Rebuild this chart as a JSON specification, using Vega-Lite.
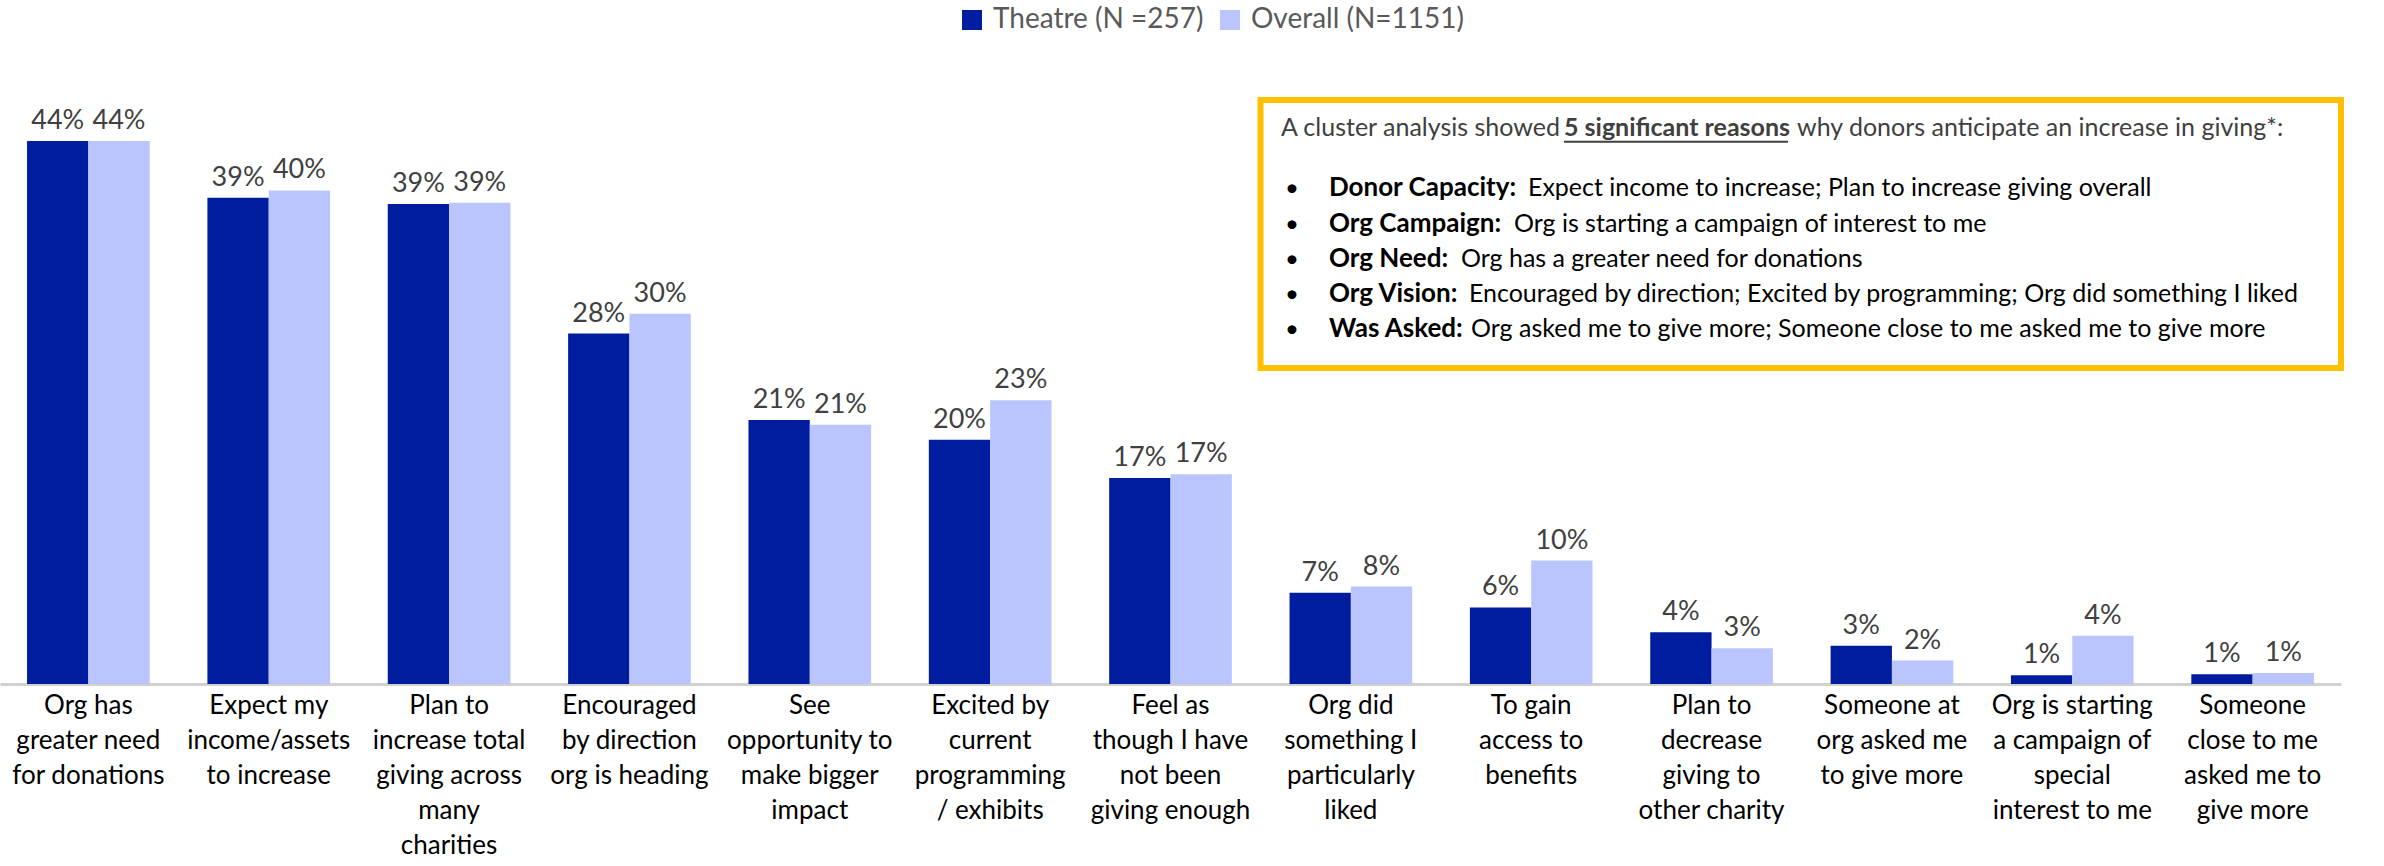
{
  "$schema": "https://vega.github.io/schema/vega-lite/v6.json",
  "width": 2341,
  "height": 617,
  "autosize": {"type": "none"},
  "padding": {"left": 0, "top": 67, "right": 43, "bottom": 182},
  "background": "white",
  "config": {"view": {"stroke": null}, "font": "Lato"},
  "datasets": {
    "bars": [
      {"category": "Org has|greater need|for donations", "series": "Theatre (N =257)", "value": 0.440},
      {"category": "Org has|greater need|for donations", "series": "Overall (N=1151)", "value": 0.440},
      {"category": "Expect my|income/assets|to increase", "series": "Theatre (N =257)", "value": 0.394},
      {"category": "Expect my|income/assets|to increase", "series": "Overall (N=1151)", "value": 0.400},
      {"category": "Plan to|increase total|giving across|many|charities", "series": "Theatre (N =257)", "value": 0.389},
      {"category": "Plan to|increase total|giving across|many|charities", "series": "Overall (N=1151)", "value": 0.390},
      {"category": "Encouraged|by direction|org is heading", "series": "Theatre (N =257)", "value": 0.284},
      {"category": "Encouraged|by direction|org is heading", "series": "Overall (N=1151)", "value": 0.300},
      {"category": "See|opportunity to|make bigger|impact", "series": "Theatre (N =257)", "value": 0.214},
      {"category": "See|opportunity to|make bigger|impact", "series": "Overall (N=1151)", "value": 0.210},
      {"category": "Excited by|current|programming|/ exhibits", "series": "Theatre (N =257)", "value": 0.198},
      {"category": "Excited by|current|programming|/ exhibits", "series": "Overall (N=1151)", "value": 0.230},
      {"category": "Feel as|though I have|not been|giving enough", "series": "Theatre (N =257)", "value": 0.167},
      {"category": "Feel as|though I have|not been|giving enough", "series": "Overall (N=1151)", "value": 0.170},
      {"category": "Org did|something I|particularly|liked", "series": "Theatre (N =257)", "value": 0.074},
      {"category": "Org did|something I|particularly|liked", "series": "Overall (N=1151)", "value": 0.079},
      {"category": "To gain|access to|benefits", "series": "Theatre (N =257)", "value": 0.062},
      {"category": "To gain|access to|benefits", "series": "Overall (N=1151)", "value": 0.100},
      {"category": "Plan to|decrease|giving to|other charity", "series": "Theatre (N =257)", "value": 0.042},
      {"category": "Plan to|decrease|giving to|other charity", "series": "Overall (N=1151)", "value": 0.029},
      {"category": "Someone at|org asked me|to give more", "series": "Theatre (N =257)", "value": 0.031},
      {"category": "Someone at|org asked me|to give more", "series": "Overall (N=1151)", "value": 0.019},
      {"category": "Org is starting|a campaign of|special|interest to me", "series": "Theatre (N =257)", "value": 0.007},
      {"category": "Org is starting|a campaign of|special|interest to me", "series": "Overall (N=1151)", "value": 0.039},
      {"category": "Someone|close to me|asked me to|give more", "series": "Theatre (N =257)", "value": 0.008},
      {"category": "Someone|close to me|asked me to|give more", "series": "Overall (N=1151)", "value": 0.009}
    ],
    "notes": [
      {"x": 7.113, "y": 0.444, "text": "A cluster analysis showed", "kind": "head"},
      {"x": 8.685, "y": 0.444, "text": "5 significant reasons", "kind": "headbold"},
      {"x": 9.979, "y": 0.444, "text": "why donors anticipate an increase in giving*:", "kind": "head"},
      {"x": 7.136, "y": 0.3955, "text": "•", "kind": "bullet"},
      {"x": 7.136, "y": 0.3663, "text": "•", "kind": "bullet"},
      {"x": 7.136, "y": 0.3379, "text": "•", "kind": "bullet"},
      {"x": 7.136, "y": 0.3096, "text": "•", "kind": "bullet"},
      {"x": 7.136, "y": 0.2812, "text": "•", "kind": "bullet"},
      {"x": 7.380, "y": 0.3955, "text": "Donor Capacity:", "kind": "bold"},
      {"x": 7.380, "y": 0.3663, "text": "Org Campaign:", "kind": "bold"},
      {"x": 7.380, "y": 0.3379, "text": "Org Need:", "kind": "bold"},
      {"x": 7.380, "y": 0.3096, "text": "Org Vision:", "kind": "bold"},
      {"x": 7.380, "y": 0.2812, "text": "Was Asked:", "kind": "bold"},
      {"x": 8.485, "y": 0.3955, "text": "Expect income to increase; Plan to increase giving overall", "kind": "normal"},
      {"x": 8.407, "y": 0.3663, "text": "Org is starting a campaign of interest to me", "kind": "normal"},
      {"x": 8.113, "y": 0.3379, "text": "Org has a greater need for donations", "kind": "normal"},
      {"x": 8.157, "y": 0.3096, "text": "Encouraged by direction; Excited by programming; Org did something I liked", "kind": "normal"},
      {"x": 8.169, "y": 0.2812, "text": "Org asked me to give more; Someone close to me asked me to give more", "kind": "normal"}
    ],
    "box": [{"x1": 7.0, "x2": 13.0, "y1": 0.4733, "y2": 0.2561}],
    "underline": [{"x1": 8.685, "x2": 9.929, "y": 0.4395}]
  },
  "resolve": {"scale": {"x": "independent"}},
  "layer": [
    {
      "data": {"name": "bars"},
      "encoding": {
        "x": {
          "field": "category", "type": "nominal", "sort": null,
          "scale": {"paddingInner": 0.32, "paddingOuter": 0.15},
          "axis": {
            "title": null, "labelAngle": 0,
            "labelExpr": "split(datum.label, '|')",
            "labelFont": "Lato",
            "labelFontSize": 26, "labelColor": "#000000",
            "labelLineHeight": 35, "labelBaseline": "top", "labelPadding": 8,
            "labelLimit": 400, "labelAlign": "center",
            "ticks": false, "domainColor": "#D0D0D0", "domainWidth": 3, "grid": false
          }
        },
        "xOffset": {"field": "series", "type": "nominal", "sort": ["Theatre (N =257)", "Overall (N=1151)"]},
        "y": {"field": "value", "type": "quantitative", "scale": {"domain": [0, 0.5]}, "axis": null}
      },
      "layer": [
        {
          "mark": {"type": "bar"},
          "encoding": {
            "color": {
              "field": "series", "type": "nominal",
              "scale": {"domain": ["Theatre (N =257)", "Overall (N=1151)"], "range": ["#001C9F", "#BBC5FD"]},
              "legend": {
                "orient": "none", "legendX": 958, "legendY": -61, "direction": "horizontal",
                "title": null, "symbolType": "square", "symbolSize": 400, "symbolStrokeWidth": 0,
                "labelFont": "Lato", "labelFontSize": 28, "labelColor": "#595959", "labelLimit": 400,
                "labelOffset": 7, "columnPadding": 12
              }
            }
          }
        },
        {
          "mark": {"type": "text", "dy": -20, "fontSize": 27, "color": "#404040", "font": "Lato"},
          "encoding": {"text": {"field": "value", "type": "quantitative", "format": ".0%"}}
        }
      ]
    },
    {
      "layer": [
        {
          "data": {"name": "box"},
          "mark": {"type": "rect", "fill": "white", "stroke": "#FFC000", "strokeWidth": 6},
          "encoding": {
            "x": {"field": "x1", "type": "quantitative", "scale": {"domain": [0, 13]}, "axis": null},
            "x2": {"field": "x2"},
            "y": {"field": "y1", "type": "quantitative", "scale": {"domain": [0, 0.5]}, "axis": null},
            "y2": {"field": "y2"}
          }
        },
        {
          "data": {"name": "underline"},
          "mark": {"type": "rule", "stroke": "#404040", "strokeWidth": 2},
          "encoding": {
            "x": {"field": "x1", "type": "quantitative", "scale": {"domain": [0, 13]}, "axis": null},
            "x2": {"field": "x2"},
            "y": {"field": "y", "type": "quantitative", "scale": {"domain": [0, 0.5]}, "axis": null}
          }
        },
        {
          "data": {"name": "notes"},
          "transform": [{"filter": "datum.kind === 'head'"}],
          "mark": {"type": "text", "align": "left", "baseline": "alphabetic", "font": "Lato", "fontSize": 25, "color": "#404040"},
          "encoding": {
            "x": {"field": "x", "type": "quantitative", "scale": {"domain": [0, 13]}, "axis": null},
            "y": {"field": "y", "type": "quantitative", "scale": {"domain": [0, 0.5]}, "axis": null},
            "text": {"field": "text"}
          }
        },
        {
          "data": {"name": "notes"},
          "transform": [{"filter": "datum.kind === 'headbold'"}],
          "mark": {"type": "text", "align": "left", "baseline": "alphabetic", "font": "Lato", "fontSize": 25, "fontWeight": "bold", "color": "#404040"},
          "encoding": {
            "x": {"field": "x", "type": "quantitative", "scale": {"domain": [0, 13]}, "axis": null},
            "y": {"field": "y", "type": "quantitative", "scale": {"domain": [0, 0.5]}, "axis": null},
            "text": {"field": "text"}
          }
        },
        {
          "data": {"name": "notes"},
          "transform": [{"filter": "datum.kind === 'bullet'"}],
          "mark": {"type": "text", "align": "left", "baseline": "alphabetic", "font": "Lato", "fontSize": 24, "color": "#000000"},
          "encoding": {
            "x": {"field": "x", "type": "quantitative", "scale": {"domain": [0, 13]}, "axis": null},
            "y": {"field": "y", "type": "quantitative", "scale": {"domain": [0, 0.5]}, "axis": null},
            "text": {"field": "text"}
          }
        },
        {
          "data": {"name": "notes"},
          "transform": [{"filter": "datum.kind === 'bold'"}],
          "mark": {"type": "text", "align": "left", "baseline": "alphabetic", "font": "Lato", "fontSize": 26, "fontWeight": "bold", "color": "#000000"},
          "encoding": {
            "x": {"field": "x", "type": "quantitative", "scale": {"domain": [0, 13]}, "axis": null},
            "y": {"field": "y", "type": "quantitative", "scale": {"domain": [0, 0.5]}, "axis": null},
            "text": {"field": "text"}
          }
        },
        {
          "data": {"name": "notes"},
          "transform": [{"filter": "datum.kind === 'normal'"}],
          "mark": {"type": "text", "align": "left", "baseline": "alphabetic", "font": "Lato", "fontSize": 25, "color": "#000000"},
          "encoding": {
            "x": {"field": "x", "type": "quantitative", "scale": {"domain": [0, 13]}, "axis": null},
            "y": {"field": "y", "type": "quantitative", "scale": {"domain": [0, 0.5]}, "axis": null},
            "text": {"field": "text"}
          }
        }
      ]
    }
  ]
}
